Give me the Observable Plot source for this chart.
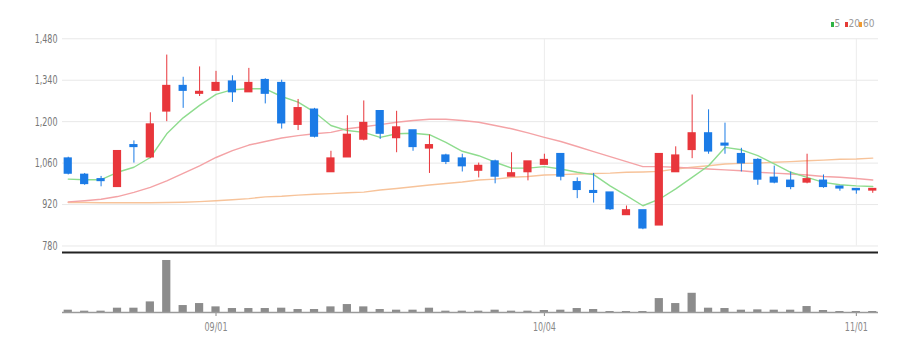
<!DOCTYPE html>
<html><head><meta charset="utf-8">
<script src="https://cdn.jsdelivr.net/npm/d3@7"></script>
<script src="https://cdn.jsdelivr.net/npm/@observablehq/plot@0.6"></script>
<style>
body{margin:0;background:#fff;}
#wrap{position:relative;width:917px;height:351px;font-family:"Liberation Sans Narrow","DejaVu Sans Condensed",sans-serif;}
#wrap svg{display:block;}
.lg{position:absolute;top:18px;font-size:10px;line-height:12px;color:#999;}
.sq{position:absolute;top:22px;width:3px;height:5px;}
</style></head>
<body><div id="wrap"></div>
<script>
const dates = ["08/19","08/22","08/23","08/24","08/25","08/26","08/29","08/30","08/31","09/01","09/02","09/05","09/06","09/07","09/08","09/13","09/14","09/15","09/16","09/19","09/20","09/21","09/22","09/23","09/26","09/27","09/28","09/29","09/30","10/04","10/05","10/06","10/07","10/11","10/12","10/13","10/14","10/17","10/18","10/19","10/20","10/21","10/24","10/25","10/26","10/27","10/28","10/31","11/01","11/02"];
const open  = [1075,1020,1005,980,1120,1080,1235,1320,1295,1305,1335,1300,1340,1330,1190,1240,1030,1080,1140,1235,1145,1170,1110,1085,1075,1035,1065,1015,1030,1055,1090,995,965,960,885,900,850,1030,1105,1160,1125,1090,1070,1010,1000,995,1000,980,972,968];
const high  = [1080,1025,1015,1100,1135,1230,1425,1350,1385,1370,1355,1380,1345,1340,1275,1245,1100,1220,1270,1235,1235,1170,1155,1090,1090,1060,1070,1095,1065,1090,1090,1010,1025,960,915,900,1090,1115,1290,1240,1195,1110,1075,1050,1030,1090,1020,980,972,972];
const low   = [1020,985,980,980,1060,1075,1200,1245,1285,1305,1265,1300,1260,1175,1170,1145,1030,1080,1135,1140,1095,1100,1025,1055,1030,1010,990,1015,1000,1055,1000,940,925,900,885,835,850,1030,1075,1090,1090,1030,985,990,970,990,975,965,955,958];
const close = [1025,990,1000,1100,1115,1190,1320,1305,1300,1330,1300,1330,1295,1195,1245,1150,1075,1155,1195,1160,1180,1115,1120,1065,1050,1050,1015,1025,1065,1070,1015,970,960,905,900,840,1090,1085,1160,1100,1120,1060,1005,995,980,1005,980,975,969,972];
const volume = [70000,40000,40000,130000,130000,320000,1570000,210000,270000,170000,120000,120000,120000,130000,90000,90000,170000,240000,170000,90000,70000,70000,130000,40000,40000,40000,70000,40000,40000,60000,70000,120000,90000,30000,30000,30000,420000,270000,580000,130000,120000,70000,80000,70000,70000,180000,60000,30000,30000,30000];
const ma5  = [1006,1004,1004,1029,1046,1079,1159,1213,1255,1292,1308,1311,1311,1285,1266,1232,1187,1170,1164,1147,1159,1161,1156,1130,1100,1085,1063,1043,1043,1048,1040,1029,1021,983,950,916,938,973,1012,1051,1113,1105,1085,1057,1029,1012,995,987,983,981];
const ma20 = [929,933,938,947,961,978,1000,1025,1051,1079,1102,1121,1133,1145,1153,1159,1164,1176,1183,1190,1198,1204,1208,1208,1204,1198,1187,1176,1162,1147,1133,1116,1099,1082,1065,1048,1048,1046,1043,1040,1037,1034,1029,1026,1023,1020,1015,1012,1008,1003];
const ma60 = [927,927,926,926,926,926,927,928,930,933,936,940,946,948,952,955,957,960,962,969,974,980,986,991,996,1003,1006,1012,1015,1020,1021,1023,1025,1026,1029,1030,1032,1040,1046,1051,1057,1059,1060,1063,1065,1068,1070,1073,1074,1077];
const priceTicks = [780,920,1060,1200,1340,1480];
const dateTicks = ["09/01","10/04","11/01"];
const maLabels = ["5","20","60"];

const rows = dates.map((d,i)=>({date:d, open:open[i], high:high[i], low:low[i], close:close[i], volume:volume[i], ma5:ma5[i], ma20:ma20[i], ma60:ma60[i]}));
const RED="#e8363b", BLUE="#1b7be6";
const col = d => d.close >= d.open ? RED : BLUE;
const FONT = "'Liberation Sans Narrow','DejaVu Sans Condensed',sans-serif";
const xOpt = {type:"band", domain:dates, paddingInner:0.5, paddingOuter:0.1, round:false};

function squeeze(svg, s){
  svg.querySelectorAll("text").forEach(t=>{
    const L = t.getComputedTextLength();
    if (L > 0) {
      t.setAttribute("textLength", (L*s).toFixed(2));
      t.setAttribute("lengthAdjust", "spacingAndGlyphs");
    }
  });
}

const price = Plot.plot({
  width:917, height:256, marginLeft:62, marginRight:39, marginTop:30, marginBottom:4,
  style:{fontFamily:FONT, fontSize:"12px", color:"#777", background:"transparent", overflow:"visible"},
  x:{...xOpt, axis:null},
  y:{domain:[758,1508], ticks:priceTicks, tickFormat:d3.format(","), tickSize:0, tickPadding:5, label:null},
  marks:[
    Plot.ruleY(priceTicks,{stroke:"#e8e8e8"}),
    Plot.ruleX(dateTicks,{y1:780, y2:1480, stroke:"#ececec"}),
    Plot.line(rows,{x:"date", y:"ma60", stroke:"#f7c39a", strokeWidth:1.4}),
    Plot.line(rows,{x:"date", y:"ma20", stroke:"#f4a3a6", strokeWidth:1.4}),
    Plot.line(rows,{x:"date", y:"ma5", stroke:"#8edc8e", strokeWidth:1.4}),
    Plot.ruleX(rows,{x:"date", y1:"low", y2:"high", stroke:col, strokeWidth:1}),
    Plot.barY(rows,{x:"date", y1:"open", y2:"close", fill:col, insetTop:-0.8, insetBottom:-0.8}),
    Plot.ruleY([758],{stroke:"#222", strokeWidth:2})
  ]
});

const vol = Plot.plot({
  width:917, height:95, marginLeft:62, marginRight:39, marginTop:2, marginBottom:39,
  style:{fontFamily:FONT, fontSize:"12px", color:"#888", background:"transparent", overflow:"visible"},
  x:{...xOpt, ticks:dateTicks, tickSize:4, tickPadding:6, label:null},
  y:{domain:[0,1630000], axis:null},
  marks:[
    Plot.barY(rows,{x:"date", y:"volume", fill:"#8c8c8c"}),
    Plot.ruleY([0],{stroke:"#9a9a9a", strokeWidth:1.5})
  ]
});

const wrap = document.getElementById("wrap");
wrap.appendChild(price);
wrap.appendChild(vol);
squeeze(price, 0.74);
squeeze(vol, 0.74);

const lgColors = ["#2fb344","#e53935","#f09a2e"];
const sqX = [830.5, 844.5, 859];
const txX = [834.5, 848.5, 863];
maLabels.forEach((lab,i)=>{
  const s=document.createElement("div"); s.className="sq"; s.style.left=sqX[i]+"px"; s.style.background=lgColors[i]; wrap.appendChild(s);
  const t=document.createElement("div"); t.className="lg"; t.style.left=txX[i]+"px"; t.textContent=lab; wrap.appendChild(t);
});
</script>
</body></html>
